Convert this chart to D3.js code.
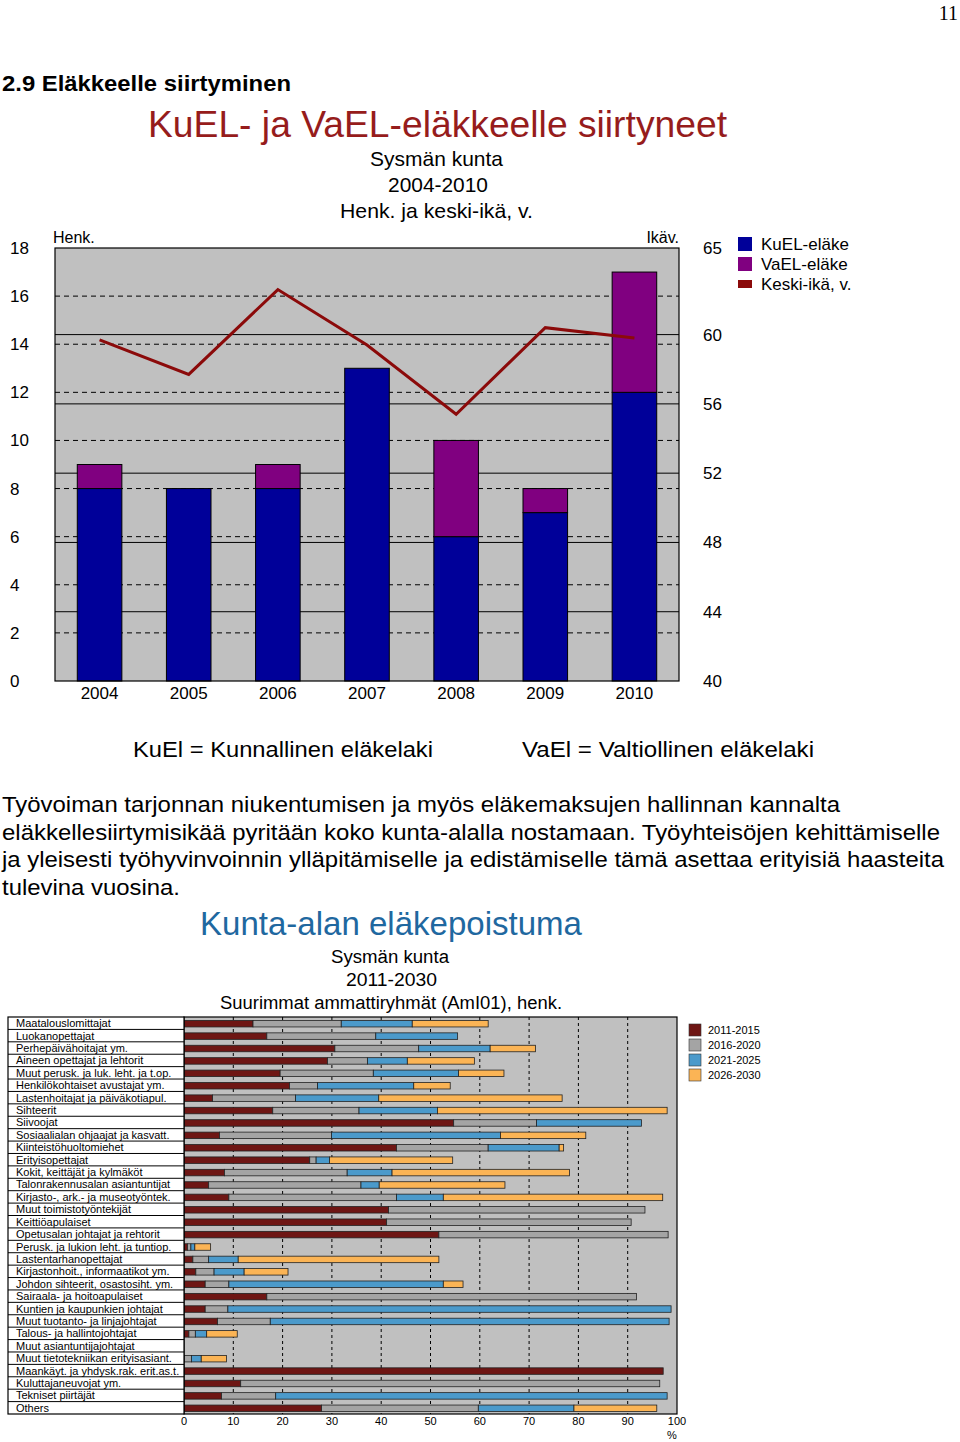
<!DOCTYPE html>
<html>
<head>
<meta charset="utf-8">
<script src="https://cdn.jsdelivr.net/npm/d3@7"></script>
<style>
  body { margin: 0; background: #fff; }
  svg { display: block; }
  text { font-family: "Liberation Sans Narrow", "Arial Narrow", "Liberation Sans", Arial, sans-serif; }
</style>
</head>
<body>
<svg id="page" width="960" height="1442"></svg>
<script>
// --- kaavio 1: KuEL- ja VaEL-eläkkeelle siirtyneet ---
const years = ['2004', '2005', '2006', '2007', '2008', '2009', '2010']
const kuel = [8, 8, 8, 13, 6, 7, 12]
const vael = [1, 0, 1, 0, 4, 1, 5]
const keskiIka = [59.7, 57.7, 62.6, 59.4, 55.4, 60.4, 59.8]
const henkTicks = [0, 2, 4, 6, 8, 10, 12, 14, 16, 18]
const ikaTicks = [40, 44, 48, 52, 56, 60, 65]
const legend1 = ['KuEL-eläke', 'VaEL-eläke', 'Keski-ikä, v.']

// --- kaavio 2: Kunta-alan eläkepoistuma ---
const ammatit = [
  'Maatalouslomittajat', 'Luokanopettajat', 'Perhepäivähoitajat ym.', 'Aineen opettajat ja lehtorit',
  'Muut perusk. ja luk. leht. ja t.op.', 'Henkilökohtaiset avustajat ym.', 'Lastenhoitajat ja päiväkotiapul.',
  'Sihteerit', 'Siivoojat', 'Sosiaalialan ohjaajat ja kasvatt.', 'Kiinteistöhuoltomiehet', 'Erityisopettajat',
  'Kokit, keittäjät ja kylmäköt', 'Talonrakennusalan asiantuntijat', 'Kirjasto-, ark.- ja museotyöntek.',
  'Muut toimistotyöntekijät', 'Keittiöapulaiset', 'Opetusalan johtajat ja rehtorit',
  'Perusk. ja lukion leht. ja tuntiop.', 'Lastentarhanopettajat', 'Kirjastonhoit., informaatikot ym.',
  'Johdon sihteerit, osastosiht. ym.', 'Sairaala- ja hoitoapulaiset', 'Kuntien ja kaupunkien johtajat',
  'Muut tuotanto- ja linjajohtajat', 'Talous- ja hallintojohtajat', 'Muut asiantuntijajohtajat',
  'Muut tietotekniikan erityisasiant.', 'Maankäyt. ja yhdysk.rak. erit.as.t.', 'Kuluttajaneuvojat ym.',
  'Tekniset piirtäjät', 'Others'
]
const periods = ['2011-2015', '2016-2020', '2021-2025', '2026-2030']
const p2011 = [14.0, 16.8, 30.6, 29.1, 19.5, 21.4, 5.8, 18.0, 54.7, 7.2, 43.1, 25.5, 8.2, 5.0, 9.1, 41.5,
  41.1, 51.7, 0.7, 1.8, 2.4, 4.3, 16.8, 4.3, 6.8, 1.0, 0, 0, 97.2, 11.5, 7.6, 27.9]
const p2016 = [17.9, 22.1, 17.0, 8.1, 18.9, 5.7, 16.8, 17.5, 16.8, 22.7, 18.6, 1.3, 24.9, 30.9, 34.0, 52.0,
  49.6, 46.5, 0.7, 3.2, 3.7, 4.8, 75.0, 4.6, 10.7, 1.3, 0, 1.5, 0, 85.0, 11.0, 31.8]
const p2021 = [14.4, 16.6, 14.5, 8.1, 17.3, 19.5, 16.9, 15.9, 21.3, 34.3, 14.4, 2.7, 9.1, 3.7, 9.5, 0,
  0, 0, 0.8, 6.0, 6.1, 43.5, 0, 89.9, 80.9, 2.3, 0, 2.0, 0, 0, 79.4, 19.4]
const p2026 = [15.4, 0, 9.2, 13.6, 9.2, 7.4, 37.2, 46.6, 0, 17.3, 0.9, 25.0, 36.0, 25.5, 44.5, 0,
  0, 0, 3.2, 40.7, 8.9, 4.0, 0, 0, 0, 6.2, 0, 5.1, 0, 0, 0, 16.8]
const pctTicks = [0, 10, 20, 30, 40, 50, 60, 70, 80, 90, 100]

const svg = d3.select('#page')
svg.append('rect').attr('width', 960).attr('height', 1442).attr('fill', '#fff')

// sivunumero ja otsikko
svg.append('text').attr('x', 958).attr('y', 20).attr('text-anchor', 'end')
  .style('font-family', '"Liberation Serif", "DejaVu Serif", serif').style('font-size', '20px').text('11')
svg.append('text').attr('x', 2).attr('y', 91)
  .style('font-family', '"Liberation Sans", Arial, sans-serif').style('font-weight', 'bold').style('font-size', '22px')
  .attr('textLength', 289).attr('lengthAdjust', 'spacingAndGlyphs')
  .text('2.9 Eläkkeelle siirtyminen')

// apu: keskitetty teksti tietyllä leveydellä
function label (g, x, y, size, w, txt, color) {
  return g.append('text').attr('x', x).attr('y', y).attr('text-anchor', 'middle')
    .style('font-size', size + 'px').attr('fill', color || '#000')
    .attr('textLength', w).attr('lengthAdjust', 'spacingAndGlyphs').text(txt)
}

// ===== kaavio 1 =====
const c1 = svg.append('g')
label(c1, 437.5, 137, 37, 579, 'KuEL- ja VaEL-eläkkeelle siirtyneet', '#961c1c')
label(c1, 436.5, 166, 21, 133, 'Sysmän kunta')
label(c1, 438, 192, 21, 100, '2004-2010')
label(c1, 436.5, 218, 21, 193, 'Henk. ja keski-ikä, v.')

const m1 = { left: 55, right: 679, top: 248, bottom: 681 }
const x1 = d3.scaleBand().domain(years).range([m1.left, m1.right]).paddingInner(0.5).paddingOuter(0.25)
const yL = d3.scaleLinear().domain([0, 18]).range([m1.bottom, m1.top])
const yR = d3.scaleLinear().domain([40, 65]).range([m1.bottom, m1.top])

c1.append('rect').attr('x', m1.left).attr('y', m1.top)
  .attr('width', m1.right - m1.left).attr('height', m1.bottom - m1.top).attr('fill', '#c0c0c0')

// ruudukko: katkoviiva vasemmasta, yhtenäinen oikeasta akselista
c1.selectAll('line.dash').data(henkTicks.filter(d => d > 0 && d < 18)).join('line')
  .attr('x1', m1.left).attr('x2', m1.right).attr('y1', d => yL(d)).attr('y2', d => yL(d))
  .attr('stroke', '#000').attr('stroke-width', 1).attr('stroke-dasharray', '5,4')
c1.selectAll('line.solid').data(ikaTicks.filter(d => d > 40 && d < 65)).join('line')
  .attr('x1', m1.left).attr('x2', m1.right).attr('y1', d => yR(d)).attr('y2', d => yR(d))
  .attr('stroke', '#000').attr('stroke-width', 1)

const rows1 = years.map((y, i) => ({ year: y, kuel: kuel[i], vael: vael[i] }))
const stack1 = d3.stack().keys(['kuel', 'vael'])(rows1)
const col1 = { kuel: '#000099', vael: '#800080' }
c1.selectAll('g.ser').data(stack1).join('g').attr('fill', d => col1[d.key])
  .selectAll('rect').data(d => d.filter(s => s[1] > s[0])).join('rect')
  .attr('x', d => x1(d.data.year)).attr('width', x1.bandwidth())
  .attr('y', d => yL(d[1])).attr('height', d => yL(d[0]) - yL(d[1]))
  .attr('stroke', '#000').attr('stroke-width', 1)

c1.append('path').datum(keskiIka)
  .attr('d', d3.line().x((d, i) => x1(years[i]) + x1.bandwidth() / 2).y(d => yR(d)))
  .attr('fill', 'none').attr('stroke', '#8b0a0a').attr('stroke-width', 3).attr('stroke-linejoin', 'miter')

c1.append('rect').attr('x', m1.left).attr('y', m1.top)
  .attr('width', m1.right - m1.left).attr('height', m1.bottom - m1.top)
  .attr('fill', 'none').attr('stroke', '#000').attr('stroke-width', 1.2)

c1.selectAll('text.yl').data(henkTicks).join('text')
  .attr('x', 10).attr('y', d => yL(d) + 6).style('font-size', '17px').text(d => d)
c1.selectAll('text.yr').data(ikaTicks).join('text')
  .attr('x', 703).attr('y', d => yR(d) + 6).style('font-size', '17px').text(d => d)
c1.selectAll('text.xl').data(years).join('text')
  .attr('x', d => x1(d) + x1.bandwidth() / 2).attr('y', 699).attr('text-anchor', 'middle')
  .style('font-size', '17px').text(d => d)
c1.append('text').attr('x', 53).attr('y', 243).style('font-size', '16px').text('Henk.')
c1.append('text').attr('x', 679).attr('y', 243).attr('text-anchor', 'end').style('font-size', '16px').text('Ikäv.')

const lg1 = c1.selectAll('g.lg').data(legend1).join('g')
  .attr('transform', (d, i) => `translate(738,${244 + i * 20})`)
lg1.append('rect').attr('x', 0).attr('y', (d, i) => i === 2 ? -4 : -7)
  .attr('width', 14).attr('height', (d, i) => i === 2 ? 8 : 14)
  .attr('fill', (d, i) => ['#000099', '#800080', '#8b0a0a'][i])
lg1.append('text').attr('x', 23).attr('y', 6).style('font-size', '17px').text(d => d)

// selitteet ja leipäteksti
const bodyFont = '"Liberation Sans", Arial, sans-serif'
svg.append('text').attr('x', 133).attr('y', 757).style('font-family', bodyFont).style('font-size', '22px')
  .attr('textLength', 300).attr('lengthAdjust', 'spacingAndGlyphs').text('KuEl = Kunnallinen eläkelaki')
svg.append('text').attr('x', 522).attr('y', 757).style('font-family', bodyFont).style('font-size', '22px')
  .attr('textLength', 292).attr('lengthAdjust', 'spacingAndGlyphs').text('VaEl = Valtiollinen eläkelaki')
const para = [
  ['Työvoiman tarjonnan niukentumisen ja myös eläkemaksujen hallinnan kannalta', 838],
  ['eläkkellesiirtymisikää pyritään koko kunta-alalla nostamaan. Työyhteisöjen kehittämiselle', 938],
  ['ja yleisesti työhyvinvoinnin ylläpitämiselle ja edistämiselle tämä asettaa erityisiä haasteita', 942],
  ['tulevina vuosina.', 178]
]
svg.selectAll('text.para').data(para).join('text')
  .attr('x', 2).attr('y', (d, i) => 812 + i * 27.5).style('font-family', bodyFont).style('font-size', '22px')
  .attr('textLength', d => d[1]).attr('lengthAdjust', 'spacingAndGlyphs').text(d => d[0])

// ===== kaavio 2 =====
const c2 = svg.append('g')
const c2Font = '"Liberation Sans", Arial, sans-serif'
label(c2, 391, 935, 33, 382, 'Kunta-alan eläkepoistuma', '#1f68a0').style('font-family', c2Font)
label(c2, 390, 963, 18, 118, 'Sysmän kunta').style('font-family', c2Font)
label(c2, 391.5, 986, 18, 91, '2011-2030').style('font-family', c2Font)
label(c2, 391, 1009, 18, 342, 'Suurimmat ammattiryhmät (AmI01), henk.').style('font-family', c2Font)

const m2 = { left: 184, right: 677, top: 1017, bottom: 1414, labelLeft: 8 }
const x2 = d3.scaleLinear().domain([0, 100]).range([m2.left, m2.right])
const y2 = d3.scaleBand().domain(ammatit).range([m2.top, m2.bottom])

c2.append('rect').attr('x', m2.left).attr('y', m2.top)
  .attr('width', m2.right - m2.left).attr('height', m2.bottom - m2.top).attr('fill', '#c0c0c0')
c2.selectAll('line.vg').data(pctTicks.filter(d => d > 0 && d < 100)).join('line')
  .attr('x1', d => x2(d)).attr('x2', d => x2(d)).attr('y1', m2.top).attr('y2', m2.bottom)
  .attr('stroke', '#000').attr('stroke-width', 1).attr('stroke-dasharray', '3,3')

const rows2 = ammatit.map((a, i) => ({ ammatti: a, p1: p2011[i], p2: p2016[i], p3: p2021[i], p4: p2026[i] }))
const stack2 = d3.stack().keys(['p1', 'p2', 'p3', 'p4'])(rows2)
const col2 = ['#6e1614', '#a4a4a4', '#4b9acb', '#fbb455']
const barH = 6.5
c2.selectAll('g.ser2').data(stack2).join('g').attr('fill', (d, i) => col2[i])
  .selectAll('rect').data(d => d.filter(s => s[1] > s[0])).join('rect')
  .attr('x', d => x2(d[0])).attr('width', d => x2(d[1]) - x2(d[0]))
  .attr('y', d => y2(d.data.ammatti) + (y2.bandwidth() - barH) / 2 + 0.5).attr('height', barH)
  .attr('stroke', '#222').attr('stroke-width', 0.8)

c2.append('rect').attr('x', m2.left).attr('y', m2.top)
  .attr('width', m2.right - m2.left).attr('height', m2.bottom - m2.top)
  .attr('fill', 'none').attr('stroke', '#000').attr('stroke-width', 1.2)

// ammattinimet taulukkona
c2.append('rect').attr('x', m2.labelLeft).attr('y', m2.top)
  .attr('width', m2.left - m2.labelLeft).attr('height', m2.bottom - m2.top)
  .attr('fill', '#fff').attr('stroke', '#000').attr('stroke-width', 1.2)
c2.selectAll('line.rs').data(ammatit.slice(1)).join('line')
  .attr('x1', m2.labelLeft).attr('x2', m2.left).attr('y1', d => y2(d)).attr('y2', d => y2(d))
  .attr('stroke', '#000').attr('stroke-width', 1)
c2.selectAll('text.am').data(ammatit).join('text')
  .attr('x', 16).attr('y', d => y2(d) + y2.bandwidth() / 2 + 4)
  .style('font-family', c2Font).style('font-size', '11px').text(d => d)

c2.selectAll('text.xt').data(pctTicks).join('text')
  .attr('x', d => x2(d)).attr('y', 1425).attr('text-anchor', 'middle')
  .style('font-family', c2Font).style('font-size', '11px').text(d => d)
c2.append('text').attr('x', 672).attr('y', 1439).attr('text-anchor', 'middle')
  .style('font-family', c2Font).style('font-size', '11px').text('%')

const lg2 = c2.selectAll('g.lg2').data(periods).join('g')
  .attr('transform', (d, i) => `translate(689,${1024 + i * 15})`)
lg2.append('rect').attr('width', 12).attr('height', 12).attr('fill', (d, i) => col2[i])
  .attr('stroke', '#333').attr('stroke-width', 0.6)
lg2.append('text').attr('x', 19).attr('y', 10).style('font-family', c2Font).style('font-size', '11px').text(d => d)
</script>
</body>
</html>
